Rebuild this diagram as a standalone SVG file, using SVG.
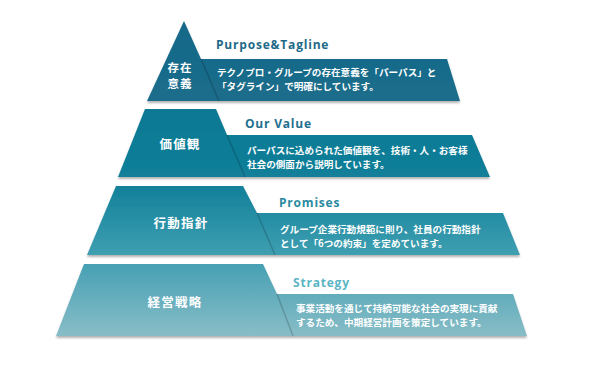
<svg xmlns="http://www.w3.org/2000/svg" width="607" height="369" viewBox="0 0 607 369">
<defs>
<linearGradient id="g1" x1="0" y1="0" x2="0" y2="1"><stop offset="0" stop-color="#156888"/><stop offset="1" stop-color="#1b6d8b"/></linearGradient>
<linearGradient id="g2" x1="0" y1="0" x2="0" y2="1"><stop offset="0" stop-color="#0c7893"/><stop offset="1" stop-color="#127f99"/></linearGradient>
<linearGradient id="g3" x1="0" y1="0" x2="0" y2="1"><stop offset="0" stop-color="#12809a"/><stop offset="1" stop-color="#3f9fb1"/></linearGradient>
<linearGradient id="g4" x1="0" y1="0" x2="0" y2="1"><stop offset="0" stop-color="#47a0b4"/><stop offset="1" stop-color="#88bdc7"/></linearGradient>
<filter id="sh" x="-5%" y="-10%" width="110%" height="130%"><feDropShadow dx="0" dy="2" stdDeviation="1.2" flood-color="#000" flood-opacity="0.3"/></filter>
</defs>
<style>
.lbl{font-family:"Noto Sans CJK JP","Noto Sans",sans-serif;font-weight:bold;font-size:12.5px;fill:#fff;text-anchor:middle;letter-spacing:1.2px}
.lbs{font-size:11.5px;letter-spacing:1px}
.ttl{font-family:"Open Sans","Liberation Sans",sans-serif;font-weight:bold;font-size:12px;letter-spacing:0.8px}
.dsc{font-family:"Noto Sans CJK JP","Noto Sans",sans-serif;font-weight:bold;font-size:9.6px;fill:#fff}
.sep{fill:none;stroke:#000;stroke-opacity:0.18;stroke-width:1.5}
</style>
<rect width="607" height="369" fill="#fff"/>
<g id="tier1">
<path d="M184,21 L201,59 L447,59 L460,101 L147,101 Z" fill="url(#g1)" filter="url(#sh)"/>
<path class="sep" d="M201,59 L219,101"/>
<text class="ttl" x="216" y="49" fill="#1d6a88">Purpose&amp;Tagline</text>
<text class="lbl lbs" x="180" y="72">存在</text>
<text class="lbl lbs" x="180" y="88">意義</text>
<text class="dsc" x="217" y="76">テクノプロ・グループの存在意義を「パーパス」と</text>
<text class="dsc" x="217" y="90">「タグライン」で明確にしています。</text>
</g>
<g id="tier2">
<path d="M145,109 L216,109 L227,135 L472,135 L490,177 L118,177 Z" fill="url(#g2)" filter="url(#sh)"/>
<path class="sep" d="M227,135 L245,177"/>
<text class="ttl" x="245" y="128" fill="#1e6f8f">Our Value</text>
<text class="lbl" x="180" y="149">価値観</text>
<text class="dsc" x="247" y="154">パーパスに込められた価値観を、技術・人・お客様</text>
<text class="dsc" x="247" y="168">社会の側面から説明しています。</text>
</g>
<g id="tier3">
<path d="M116,186 L243,186 L257,213 L503,213 L520,255 L87,255 Z" fill="url(#g3)" filter="url(#sh)"/>
<path class="sep" d="M257,213 L275,255"/>
<text class="ttl" x="279" y="207" fill="#2a8aa0">Promises</text>
<text class="lbl" x="181" y="228">行動指針</text>
<text class="dsc" x="280" y="233">グループ企業行動規範に則り、社員の行動指針</text>
<text class="dsc" x="280" y="247">として「6つの約束」を定めています。</text>
</g>
<g id="tier4">
<path d="M84,264 L263,264 L277,294 L513,294 L527,336 L56,336 Z" fill="url(#g4)" filter="url(#sh)"/>
<path class="sep" d="M277,294 L293,336"/>
<text class="ttl" x="293" y="287" fill="#5ab5c5">Strategy</text>
<text class="lbl" x="175" y="307">経営戦略</text>
<text class="dsc" x="296" y="312">事業活動を通じて持続可能な社会の実現に貢献</text>
<text class="dsc" x="296" y="326">するため、中期経営計画を策定しています。</text>
</g>
</svg>
